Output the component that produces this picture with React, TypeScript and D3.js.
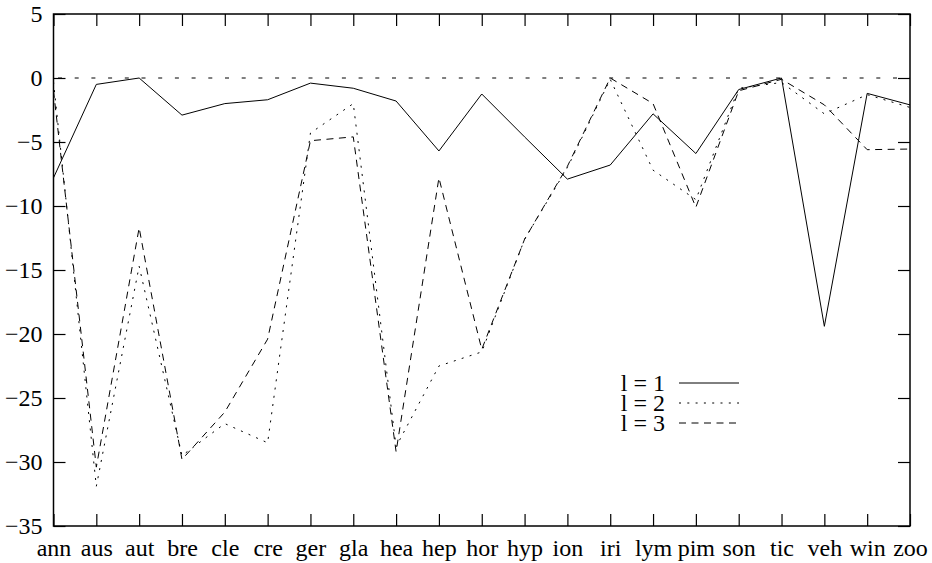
import React, { useRef, useEffect } from 'react';
import * as d3 from 'd3';

// categories along the x axis
const categories = ['ann', 'aus', 'aut', 'bre', 'cle', 'cre', 'ger', 'gla', 'hea', 'hep', 'hor', 'hyp', 'ion', 'iri', 'lym', 'pim', 'son', 'tic', 'veh', 'win', 'zoo'];

// series values
const l1 = [-7.8, -0.5, 0, -2.9, -2.0, -1.7, -0.4, -0.8, -1.8, -5.7, -1.25, -4.6, -7.9, -6.8, -2.8, -5.9, -0.9, 0, -19.4, -1.2, -2.1];
const l2 = [-0.3, -31.9, -14.7, -29.5, -27.0, -28.5, -4.3, -2.0, -28.8, -22.5, -21.4, -12.6, -7.0, -0.1, -7.2, -9.5, -0.8, -0.35, -2.8, -1.3, -2.3];
const l3 = [-1.0, -30.4, -11.7, -29.8, -26.1, -20.4, -4.9, -4.6, -29.2, -7.8, -21.2, -12.6, -6.9, 0, -2.0, -10.1, -1.0, -0.1, -2.1, -5.6, -5.55];

const yTicks = [5, 0, -5, -10, -15, -20, -25, -30, -35];
const seriesNames = ['l = 1', 'l = 2', 'l = 3'];

const width = 932;
const height = 563;
const margin = { top: 14, right: 22, bottom: 37, left: 53.5 };
const font = "'Liberation Serif', 'DejaVu Serif', serif";

const App: React.FC = () => {
  const leftRef = useRef<SVGGElement>(null);
  const rightRef = useRef<SVGGElement>(null);
  const bottomRef = useRef<SVGGElement>(null);
  const topRef = useRef<SVGGElement>(null);

  const x = d3.scalePoint<string>()
    .domain(categories)
    .range([margin.left, width - margin.right]);

  const y = d3.scaleLinear()
    .domain([-35, 5])
    .range([height - margin.bottom, margin.top]);

  const series = [
    { name: seriesNames[0], values: l1, dash: null },
    { name: seriesNames[1], values: l2, dash: '2,6.3' },
    { name: seriesNames[2], values: l3, dash: '7,5.5' },
  ];

  const line = d3.line<number>()
    .x((_, i) => x(categories[i]) || 0)
    .y(d => y(d));

  useEffect(() => {
    const tick = 12;
    // left axis with labels, ticks pointing inward
    d3.select(leftRef.current)
      .call(d3.axisLeft(y).tickValues(yTicks).tickSize(-tick).tickPadding(11))
      .call(g => g.select('.domain').remove())
      .attr('font-family', null)
      .attr('font-size', null);

    d3.select(rightRef.current)
      .call(d3.axisRight(y).tickValues(yTicks).tickSize(-tick).tickFormat(() => ''))
      .call(g => g.select('.domain').remove());

    d3.select(bottomRef.current)
      .call(d3.axisBottom(x).tickSize(-tick).tickPadding(13))
      .call(g => g.select('.domain').remove())
      .attr('font-family', null)
      .attr('font-size', null);

    d3.select(topRef.current)
      .call(d3.axisTop(x).tickSize(-tick).tickFormat(() => ''))
      .call(g => g.select('.domain').remove());

    d3.selectAll('.tick text').attr('fill', '#000');
    d3.selectAll('.tick line').attr('stroke', '#000').attr('stroke-width', 1.2);
  }, []);

  const legendX = 665;
  const legendY = 383;

  return (
    <svg
      width={width}
      height={height}
      style={{ position: 'absolute', left: 0, top: 0, background: '#fff', fontFamily: font, fontSize: '24px' }}
    >
      <line
        x1={margin.left}
        x2={width - margin.right}
        y1={y(0)}
        y2={y(0)}
        stroke="#000"
        strokeWidth={1}
        strokeDasharray="4,12.7"
        strokeDashoffset={-4.5}
      />

      {series.map(s => (
        <path
          key={s.name}
          d={line(s.values) || ''}
          fill="none"
          stroke="#000"
          strokeWidth={1}
          strokeDasharray={s.dash || undefined}
        />
      ))}

      <g ref={leftRef} transform={`translate(${margin.left},0)`} />
      <g ref={rightRef} transform={`translate(${width - margin.right},0)`} />
      <g ref={bottomRef} transform={`translate(0,${height - margin.bottom})`} />
      <g ref={topRef} transform={`translate(0,${margin.top})`} />

      <rect
        x={margin.left}
        y={margin.top}
        width={width - margin.left - margin.right}
        height={height - margin.top - margin.bottom}
        fill="none"
        stroke="#000"
        strokeWidth={1.5}
      />

      {/* legend */}
      {series.map((s, i) => (
        <g key={s.name} transform={`translate(0,${legendY + i * 20})`}>
          <text x={legendX} y={0} dy="0.33em" textAnchor="end" fill="#000">
            {s.name}
          </text>
          <line
            x1={legendX + 14}
            x2={legendX + 74}
            y1={0}
            y2={0}
            stroke="#000"
            strokeWidth={1}
            strokeDasharray={s.dash || undefined}
          />
        </g>
      ))}
    </svg>
  );
};

export default App;
